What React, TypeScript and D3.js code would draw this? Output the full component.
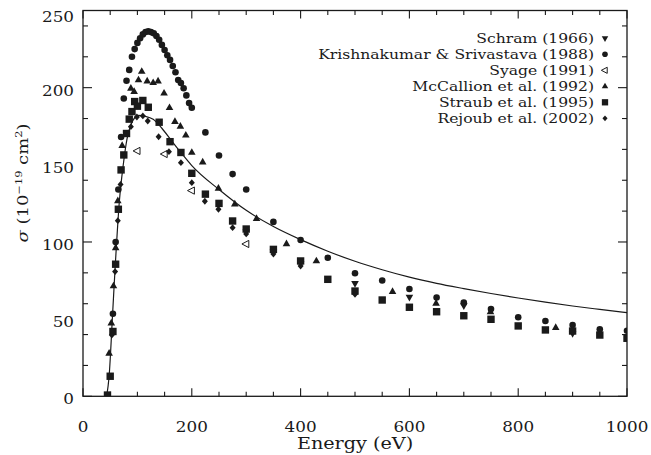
import React from 'react';
import * as d3 from 'd3';

const W = 651, H = 455;

// Schram (1966)
const schramE = [300, 350, 400, 500, 600, 700, 900];
const schramS = [106.5, 93.5, 86, 73.2, 64.2, 58.7, 40.8];

// Krishnakumar & Srivastava (1988)
const krishE = [55, 60, 65, 70, 75, 80, 85, 90, 95, 100, 105, 110, 115, 120, 125, 130, 135, 140, 145, 150, 155, 160, 165, 170, 175, 180, 185, 190, 195, 200, 225, 250, 275, 300, 350, 400, 450, 500, 550, 600, 650, 700, 750, 800, 850, 900, 950, 1000];
const krishS = [53.5, 100, 134, 168, 193, 204.5, 211.5, 220, 225, 229, 232, 234.5, 236, 236.5, 236, 235.3, 233.5, 231, 227.7, 224.4, 221, 218, 214, 210, 205, 203, 199.6, 195, 190, 187, 171, 156, 144, 134, 113, 101.3, 89.8, 79.7, 75, 69.5, 64, 60.7, 56.6, 51.2, 48.8, 46.2, 43.4, 42.5];

// Syage (1991)
const syageE = [100, 150, 200, 300];
const syageS = [159, 157, 133.3, 98.7];

// McCallion et al. (1992)
const mccE = [48, 52, 56, 60, 64, 72, 88, 94, 102, 108, 118, 129, 138, 149, 159, 169, 179, 189, 200, 220, 249, 279, 319, 374, 429, 569, 649, 749, 869];
const mccS = [27.9, 47.5, 71.5, 96.2, 126.7, 162.5, 199.6, 197.4, 205, 210.5, 204.3, 203.2, 204.3, 196.4, 187, 178, 175, 169.2, 158, 151.8, 134.8, 124.6, 115.2, 98.8, 87.7, 67.8, 60.3, 54.8, 44.5];

// Straub et al. (1995)
const straubE = [45, 50, 55, 60, 65, 70, 75, 80, 85, 90, 95, 100, 110, 120, 140, 160, 180, 200, 225, 250, 275, 300, 350, 400, 450, 500, 550, 600, 650, 700, 750, 800, 850, 900, 950, 1000];
const straubS = [0.8, 13, 42, 85.6, 121.2, 146.7, 156.4, 170.3, 179.6, 184.5, 191, 188, 191.7, 187.3, 177.6, 165, 158, 144.5, 131, 125, 113.6, 108.4, 95.2, 87.7, 75.8, 68.2, 62.4, 57.7, 54.8, 52.2, 49.9, 45.6, 43, 42.3, 39.7, 37.6];

// Rejoub et al. (2002)
const rejE = [53, 59, 64, 69, 88, 99, 110, 119, 139, 158, 180, 200, 224, 249, 275, 300, 350, 400, 500];
const rejS = [39.7, 80.8, 113.8, 137.3, 174.7, 181, 181.7, 178.4, 168.2, 158.5, 151.4, 138.4, 126.4, 121.2, 109.3, 105.2, 92.2, 84.4, 66.1];

// theory curve
const curveE = [43.5, 48, 54.5, 59.5, 67, 74, 81, 88, 95, 102, 114, 129, 145, 163, 181, 200, 250, 300, 350, 400, 450, 500, 550, 600, 650, 700, 750, 800, 850, 900, 950, 1000];
const curveS = [0, 13, 54, 86, 127, 150, 167, 176, 180.5, 182, 181.5, 179.5, 173.7, 165.5, 157.5, 149.5, 134, 120.5, 110, 101.5, 94, 87.5, 82, 77.2, 73.2, 69.8, 66.6, 63.7, 61, 58.5, 56.3, 54.2];

const legendLabels = ['Schram (1966)', 'Krishnakumar & Srivastava (1988)', 'Syage (1991)', 'McCallion et al. (1992)', 'Straub et al. (1995)', 'Rejoub et al. (2002)'];
const legendSymbols = ['tridown', 'circle', 'triLeft', 'triUp', 'square', 'diamond'];

const xTickLabels = [0, 200, 400, 600, 800, 1000];
const yTickLabels = [0, 50, 100, 150, 200, 250];

const x = d3.scaleLinear().domain([0, 1000]).range([83, 627]);
const y = d3.scaleLinear().domain([0, 250]).range([396.3, 10.5]);

const FONT = "'DejaVu Serif', serif";
const SX = 1.2;
const INK = '#1a1a1a';

function Sym({ type, cx, cy, k = 1 }: { type: string; cx: number; cy: number; k?: number }) {
  if (type === 'circle') return <circle cx={cx} cy={cy} r={3.3 * k} fill={INK} />;
  if (type === 'square') {
    const h = 3.7 * k;
    return <rect x={cx - h} y={cy - h} width={2 * h} height={2 * h} fill={INK} />;
  }
  if (type === 'diamond') {
    const a = 3.0 * k, b = 3.4 * k;
    return <path d={`M${cx},${cy - b}L${cx + a},${cy}L${cx},${cy + b}L${cx - a},${cy}Z`} fill={INK} />;
  }
  if (type === 'triUp') {
    const a = 3.8 * k;
    return <path d={`M${cx},${cy - 4.3 * k}L${cx + a},${cy + 2.4 * k}L${cx - a},${cy + 2.4 * k}Z`} fill={INK} />;
  }
  if (type === 'tridown') {
    const a = 3.8 * k;
    return <path d={`M${cx},${cy + 4.3 * k}L${cx + a},${cy - 2.4 * k}L${cx - a},${cy - 2.4 * k}Z`} fill={INK} />;
  }
  const a = 3.6 * k;
  return <path d={`M${cx - 4.3 * k},${cy}L${cx + 2.6 * k},${cy - a}L${cx + 2.6 * k},${cy + a}Z`} fill="white" stroke={INK} strokeWidth={1} />;
}

export default function App() {
  const line = d3.line<number>().x((_, i) => x(curveE[i])).y((d) => y(d)).curve(d3.curveMonotoneX);
  const xMinor = x.ticks(20);
  const yMinor = y.ticks(10);
  const left = x.range()[0], right = x.range()[1];
  const bottom = y.range()[0], top = y.range()[1];

  const series: { t: string; E: number[]; S: number[] }[] = [
    { t: 'tridown', E: schramE, S: schramS },
    { t: 'circle', E: krishE, S: krishS },
    { t: 'triLeft', E: syageE, S: syageS },
    { t: 'triUp', E: mccE, S: mccS },
    { t: 'square', E: straubE, S: straubS },
    { t: 'diamond', E: rejE, S: rejS },
  ];

  return (
    <svg width={W} height={H} style={{ position: 'absolute', left: 0, top: 0, background: 'white' }}>
      <defs>
        <clipPath id="plot">
          <rect x={left} y={top} width={right - left} height={bottom - top} />
        </clipPath>
      </defs>
      <rect width={W} height={H} fill="white" />
      <g clipPath="url(#plot)">
        <path d={line(curveS) || ''} fill="none" stroke={INK} strokeWidth={1.2} />
        {series.map((s) =>
          s.E.map((e, i) => <Sym key={s.t + i} type={s.t} cx={x(e)} cy={y(s.S[i])} />)
        )}
      </g>
      <rect x={left} y={top} width={right - left} height={bottom - top} fill="none" stroke={INK} strokeWidth={1.3} />
      {xMinor.map((v) => {
        const major = xTickLabels.includes(v);
        const L = major ? 8 : 4.5;
        return (
          <g key={'xt' + v}>
            <line x1={x(v)} x2={x(v)} y1={bottom} y2={bottom - L} stroke={INK} strokeWidth={1.1} />
            <line x1={x(v)} x2={x(v)} y1={top} y2={top + L} stroke={INK} strokeWidth={1.1} />
          </g>
        );
      })}
      {yMinor.map((v) => {
        const major = yTickLabels.includes(v);
        const L = major ? 9 : 5;
        return (
          <g key={'yt' + v}>
            <line x1={left} x2={left + L} y1={y(v)} y2={y(v)} stroke={INK} strokeWidth={1.1} />
            <line x1={right} x2={right - L} y1={y(v)} y2={y(v)} stroke={INK} strokeWidth={1.1} />
          </g>
        );
      })}
      {xTickLabels.map((v) => (
        <text key={'xl' + v} transform={`translate(${x(v)},432) scale(${SX},1)`} textAnchor="middle" fontFamily={FONT} fontSize={14} fill={INK}>{v}</text>
      ))}
      {yTickLabels.map((v) => (
        <text key={'yl' + v} transform={`translate(74,${Math.max(y(v) + 3, 17) + 5}) scale(${SX},1)`} textAnchor="end" fontFamily={FONT} fontSize={14} fill={INK}>{v}</text>
      ))}
      <text transform={`translate(355,449) scale(${SX},1)`} textAnchor="middle" fontFamily={FONT} fontSize={16} fill={INK}>Energy (eV)</text>
      <text transform={`translate(28,183) rotate(-90) scale(${SX},1)`} textAnchor="middle" fontFamily={FONT} fontSize={15} fill={INK}>
        <tspan fontStyle="italic">σ</tspan>
        <tspan> (10</tspan>
        <tspan fontSize={9.5} dy={-6}>−19</tspan>
        <tspan dy={6}> cm</tspan>
        <tspan fontSize={9.5} dy={-6}>2</tspan>
        <tspan dy={6}>)</tspan>
      </text>
      {legendLabels.map((lab, i) => {
        const cy = 38.3 + i * 16;
        return (
          <g key={'lg' + i}>
            <text transform={`translate(594,${cy + 4.5}) scale(${SX},1)`} textAnchor="end" fontFamily={FONT} fontSize={13} fill={INK}>{lab}</text>
            <Sym type={legendSymbols[i]} cx={605} cy={cy} k={0.85} />
          </g>
        );
      })}
    </svg>
  );
}
